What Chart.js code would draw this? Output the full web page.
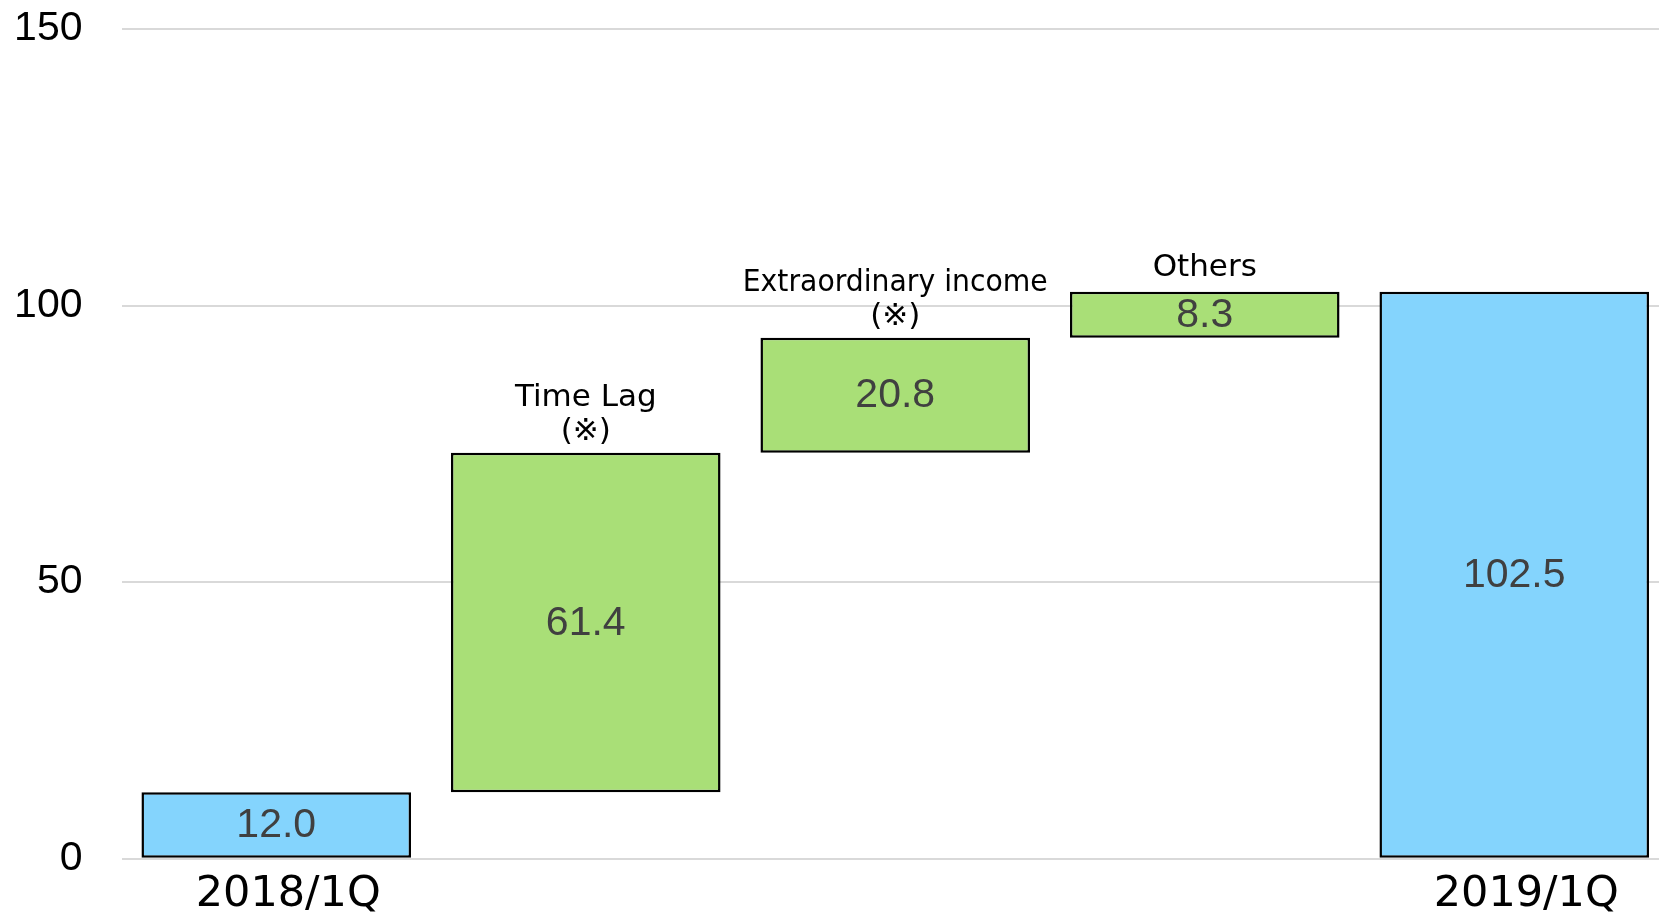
<!DOCTYPE html>
<html>
<head>
<meta charset="utf-8">
<script src="https://cdn.jsdelivr.net/npm/chart.js@4/dist/chart.umd.min.js"></script>
<style>
  html, body { margin: 0; padding: 0; background: #ffffff; overflow: hidden; width: 1659px; height: 914px; }
  #wrap { width: 1670px; height: 914px; }
</style>
</head>
<body>
<div id="wrap"><canvas id="c" width="1670" height="914"></canvas></div>
<script>
// ---- data ----
const categories = ['2018/1Q', 'Time Lag', 'Extraordinary income', 'Others', '2019/1Q'];
const xTickLabels = ['2018/1Q', '', '', '', '2019/1Q'];
const barNotes = [[], ['Time Lag', '(※)'], ['Extraordinary income', '(※)'], ['Others'], []];
const changes = [12.0, 61.4, 20.8, 8.3, 102.5];
const barKinds = ['total', 'step', 'step', 'step', 'total'];
const yTicks = [0, 50, 100, 150];

// ---- build floating ranges for the waterfall ----
let running = 0;
const ranges = changes.map((v, i) => {
  if (barKinds[i] === 'total') { running = v; return [0, v]; }
  const r = [running, running + v];
  running += v;
  return r;
});
const BLUE = '#84D4FD';
const GREEN = '#A9DF77';
const fills = barKinds.map(k => k === 'total' ? BLUE : GREEN);

const labelPlugin = {
  id: 'labels',
  afterDatasetsDraw(chart) {
    const ctx = chart.ctx;
    const meta = chart.getDatasetMeta(0);
    meta.data.forEach((bar, i) => {
      const top = Math.min(bar.y, bar.base);
      const bottom = Math.max(bar.y, bar.base);
      ctx.save();
      ctx.fillStyle = '#404040';
      ctx.font = '41px "Liberation Sans", Arial, sans-serif';
      ctx.textAlign = 'center';
      ctx.textBaseline = 'middle';
      ctx.fillText(changes[i].toFixed(1), bar.x, (top + bottom) / 2 + 1);
      ctx.restore();
      const notes = barNotes[i];
      if (notes.length) {
        ctx.save();
        ctx.fillStyle = '#000000';
        ctx.font = '31px "DejaVu Sans", "Noto Sans CJK JP", sans-serif';
        ctx.textAlign = 'center';
        ctx.textBaseline = 'alphabetic';
        const lh = 34;
        const gap = notes.length > 1 ? 13 : 16;
        notes.forEach((t, j) => {
          const y = top - gap - (notes.length - 1 - j) * lh;
          ctx.fillText(t, bar.x, y, 305);
        });
        ctx.restore();
      }
    });
  }
};

new Chart(document.getElementById('c'), {
  type: 'bar',
  data: {
    labels: xTickLabels,
    datasets: [{
      data: ranges,
      backgroundColor: fills,
      borderColor: '#000000',
      borderWidth: 2.5,
      borderSkipped: false,
      barPercentage: 0.871,
      categoryPercentage: 1.0
    }]
  },
  options: {
    responsive: false,
    devicePixelRatio: 1,
    animation: false,
    layout: { padding: { top: 29, right: 1, left: 0, bottom: 0 } },
    plugins: { legend: { display: false }, tooltip: { enabled: false } },
    scales: {
      x: {
        offset: true,
        grid: { display: false, drawTicks: false },
        border: { display: false },
        ticks: {
          color: '#000000',
          font: { family: '"DejaVu Sans", sans-serif', size: 43 },
          padding: 10,
          labelOffset: 12,
          maxRotation: 0,
          autoSkip: false
        },
        afterFit(scale) { scale.height = 55.3; scale.paddingLeft = 0; scale.paddingRight = 0; }
      },
      y: {
        min: 0,
        max: 150,
        afterBuildTicks(scale) { scale.ticks = yTicks.map(v => ({ value: v })); },
        grid: { color: '#D9D9D9', lineWidth: 2, drawTicks: false },
        border: { display: false },
        ticks: {
          color: '#000000',
          font: { family: '"Liberation Sans", Arial, sans-serif', size: 41 },
          padding: 39
        },
        afterFit(scale) { scale.width = 121.5; scale.paddingTop = 0; scale.paddingBottom = 0; }
      }
    }
  },
  plugins: [labelPlugin]
});
</script>
</body>
</html>
